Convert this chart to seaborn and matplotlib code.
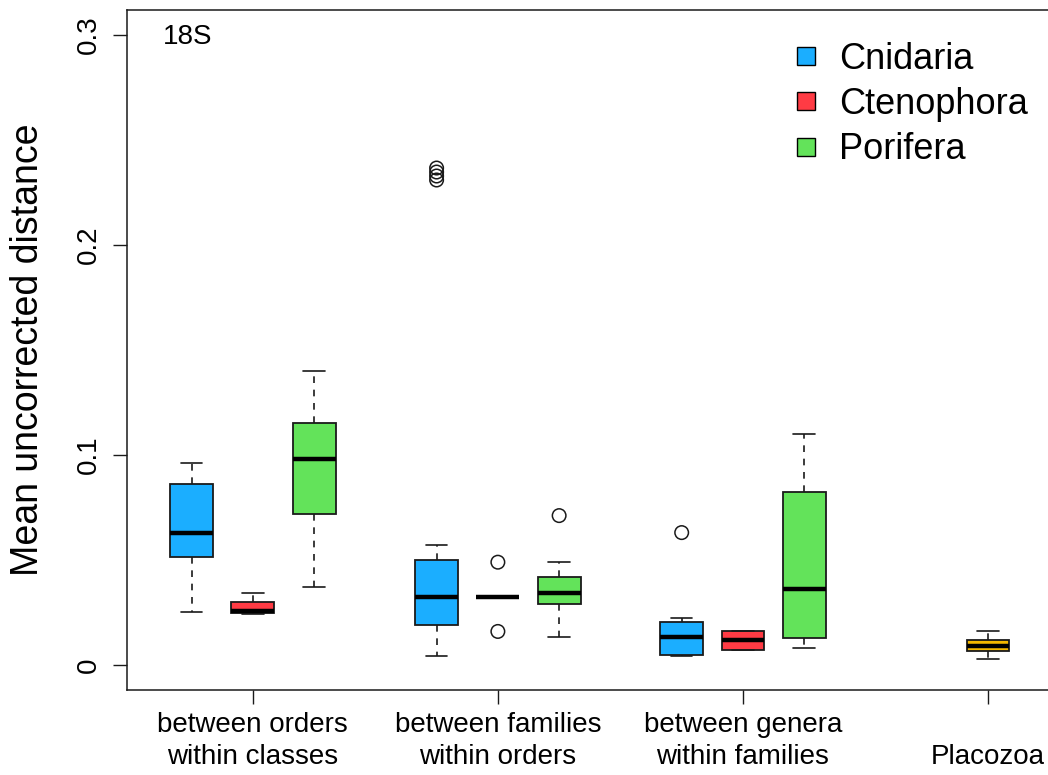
import numpy as np
import pandas as pd
import matplotlib
matplotlib.use("Agg")
import matplotlib.pyplot as plt
import seaborn as sns
from matplotlib.lines import Line2D

# Rank comparisons along the x axis (tick at the centre of each group)
rank_labels = ["between orders\nwithin classes", "between families\nwithin orders",
               "between genera\nwithin families", "\nPlacozoa"]
rank_ticks = [2, 6, 10, 14]

taxa = ["Cnidaria", "Ctenophora", "Porifera", "Placozoa"]
taxon_colors = ["#1BAEFF", "#FF3B44", "#63E35A", "#F5B800"]

# Five-number summaries per rank: lower whisker, Q1, median, Q3, upper whisker
cnidaria = [[0.0251, 0.0516, 0.0630, 0.0860, 0.0960],
            [0.0040, 0.0189, 0.0321, 0.0500, 0.0571],
            [0.0040, 0.0049, 0.0132, 0.0202, 0.0221]]
ctenophora = [[0.0241, 0.0249, 0.0257, 0.0300, 0.0341],
              [0.0322, 0.0322, 0.0322, 0.0322, 0.0322],
              [0.0071, 0.0071, 0.0116, 0.0162, 0.0162]]
porifera = [[0.0370, 0.0719, 0.0979, 0.1151, 0.1400],
            [0.0132, 0.0289, 0.0340, 0.0419, 0.0490],
            [0.0079, 0.0129, 0.0360, 0.0822, 0.1100]]
placozoa = [[0.0029, 0.0068, 0.0092, 0.0118, 0.0159]]

# Outlying values per rank
cnidaria_out = [[], [0.2310, 0.2329, 0.2348, 0.2367], [0.0630]]
ctenophora_out = [[], [0.0159, 0.0489], []]
porifera_out = [[], [0.0711], []]
placozoa_out = [[]]

# Box positions per taxon (one slot per rank)
positions = {"Cnidaria": [1, 5, 9], "Ctenophora": [2, 6, 10],
             "Porifera": [3, 7, 11], "Placozoa": [14]}

summaries = {"Cnidaria": cnidaria, "Ctenophora": ctenophora,
             "Porifera": porifera, "Placozoa": placozoa}
outliers = {"Cnidaria": cnidaria_out, "Ctenophora": ctenophora_out,
            "Porifera": porifera_out, "Placozoa": placozoa_out}

box_rows, out_rows = [], []
for taxon in taxa:
    for pos, summ, outs in zip(positions[taxon], summaries[taxon], outliers[taxon]):
        box_rows += [(pos, taxon, v) for v in summ]
        out_rows += [(pos, taxon, v) for v in outs]
boxes = pd.DataFrame(box_rows, columns=["pos", "taxon", "distance"])
outs = pd.DataFrame(out_rows, columns=["pos", "taxon", "distance"])

sns.set_style("white")
plt.rcParams["font.family"] = ["Liberation Sans", "DejaVu Sans"]
for key in ["text.color", "axes.labelcolor", "xtick.color", "ytick.color"]:
    plt.rcParams[key] = "black"

W, H = 1048, 775
fig = plt.figure(figsize=(W / 100, H / 100), dpi=100)
ax = fig.add_axes([127 / W, 85 / H, (W - 127) / W, 680 / H])

ink = "#1a1a1a"
sns.boxplot(data=boxes, x="pos", y="distance", hue="taxon", hue_order=taxa,
            palette=dict(zip(taxa, taxon_colors)), native_scale=True, dodge=False,
            width=0.7, whis=(0, 100), showfliers=False, linecolor=ink,
            linewidth=1.3, legend=False, ax=ax, saturation=1,
            medianprops=dict(color="black", linewidth=3.2, solid_capstyle="butt"),
            whiskerprops=dict(linestyle=(0, (4, 4)), linewidth=1.2),
            capprops=dict(linewidth=1.2))

sns.scatterplot(data=outs, x="pos", y="distance", marker="o", s=95,
                facecolors="none", edgecolors=ink, linewidth=1.1, ax=ax,
                legend=False, zorder=5)

ax.set_xlim(-0.053, -0.053 + (W - 127) / 61.27)
ax.set_ylim(-0.012, 0.312)

ax.set_xticks(rank_ticks, labels=rank_labels)
ax.set_yticks([0, 0.1, 0.2, 0.3], labels=["0", "0.1", "0.2", "0.3"])
for lab in ax.get_yticklabels():
    lab.set_rotation(90)
    lab.set_va("center")
ax.tick_params(axis="y", length=10, width=1, color=ink, pad=8, labelsize=20,
               left=True)
ax.tick_params(axis="x", length=10, width=1, color=ink, pad=6, labelsize=20,
               bottom=True)
for lab in ax.get_xticklabels():
    lab.set_linespacing(1.28)

ax.set_xlabel("")
ax.set_ylabel("")
fig.text(28 / W, 1 - 350 / H, "Mean uncorrected distance", rotation=90,
         ha="center", va="center", fontsize=27)

for side in ["left", "bottom", "top"]:
    ax.spines[side].set_color(ink)
    ax.spines[side].set_linewidth(1.1)
ax.spines["right"].set_visible(False)

ax.text(0.039, 0.979, "18S", transform=ax.transAxes, ha="left", va="top",
        fontsize=20)

handles = [Line2D([], [], marker="s", linestyle="", markersize=12.5,
                  markerfacecolor=c, markeredgecolor="black", markeredgewidth=1.0,
                  label=t) for t, c in zip(taxa[:3], taxon_colors[:3])]
ax.legend(handles=handles, loc="upper left", bbox_to_anchor=(788 / W, 1 - 42 / H),
          bbox_transform=fig.transFigure, frameon=False, fontsize=26,
          handlelength=1.0, handletextpad=0.42, labelspacing=0.28,
          borderpad=0, borderaxespad=0)

fig.savefig("out.png", dpi=100)
